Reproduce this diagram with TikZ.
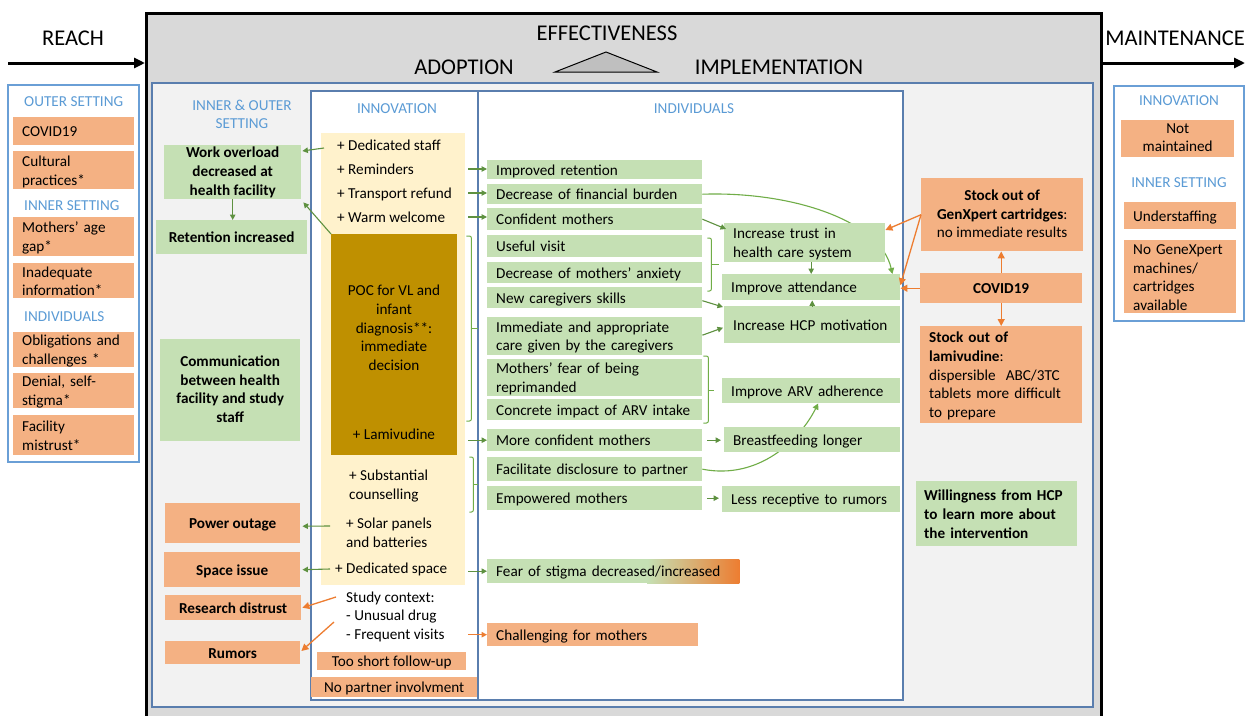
\documentclass[tikz,border=0pt]{standalone}
\usepackage{fontspec}
\setmainfont{Carlito}
\usetikzlibrary{arrows.meta,calc}
\definecolor{cgreen}{HTML}{C5E0B4}
\definecolor{corange}{HTML}{F4B183}
\definecolor{cpoc}{HTML}{BF9000}
\definecolor{cyel}{HTML}{FFF2CC}
\definecolor{cline}{HTML}{5E9140}
\definecolor{clight}{HTML}{70AD47}
\definecolor{carrow}{HTML}{ED7D31}
\definecolor{chead}{HTML}{5B9BD5}
\definecolor{cframe}{HTML}{5A7EAE}
\definecolor{cframeL}{HTML}{6A9FD6}
\definecolor{cgray}{HTML}{D9D9D9}
\definecolor{cgrayL}{HTML}{F2F2F2}
\definecolor{ctri}{HTML}{BFBFBF}
\newcommand{\myfbody}{\fontsize{15.2}{18.7}\selectfont}
\newcommand{\myfhead}{\fontsize{15.2}{18}\selectfont}
\newcommand{\myftitle}{\fontsize{22.5}{26}\selectfont}
\newcommand{\mystrut}{\rule[-2pt]{0pt}{15.5pt}}
\pgfdeclarelayer{bg}
\pgfdeclarelayer{edges}
\pgfsetlayers{bg,edges,main}
\tikzset{
  mytitle/.style={font=\myftitle, inner sep=0pt},
  hdr/.style={font=\myfhead, text=chead, inner sep=0pt},
  boxbase/.style={anchor=north west, inner ysep=0pt, font=\myfbody, execute at begin node=\mystrut, execute at end node=\mystrut},
  lbox/.style={boxbase, inner xsep=9pt, align=left},
  cbox/.style={boxbase, inner xsep=2pt, align=center},
  bfnt/.style={font=\myfbody\bfseries},
  gfill/.style={fill=cgreen},
  ofill/.style={fill=corange},
  itm/.style={font=\myfbody, inner sep=0pt, anchor=west, align=left, execute at begin node=\mystrut, execute at end node=\mystrut},
  mypanel/.style={anchor=north west, inner sep=0pt},
  ga/.style={draw=cline, line width=1.1pt, -{Triangle[length=5.5pt,width=5.5pt]}},
  gc/.style={draw=clight, line width=1.1pt, -{Triangle[length=6pt,width=6pt]}},
  oa/.style={draw=carrow, line width=1.3pt, -{Triangle[length=7pt,width=7pt]}},
  oas/.style={draw=carrow, line width=1.1pt, -{Triangle[length=5.5pt,width=5.5pt]}},
  brk/.style={draw=clight, line width=1pt, rounded corners=2pt},
  tick/.style={draw=clight, line width=1pt},
  bigarrow/.style={line width=3pt, -{Triangle[length=11pt,width=10pt]}},
  frame/.style={draw=cframe, line width=1.2pt},
}
\begin{document}
\begin{tikzpicture}[x=1pt,y=-1pt]
\useasboundingbox (0,0) rectangle (1245,715);

\begin{pgfonlayer}{bg}
\draw[line width=3pt, fill=cgray] (146,13) rectangle (1101,740);
\draw[frame, fill=cgrayL] (152,83) rectangle (1093,707);
\draw[frame, fill=white] (311,91) rectangle (478,700);
\draw[frame, fill=white] (478,91) rectangle (903,700);
\draw[draw=cframeL, line width=1.2pt, fill=white] (8,85) rectangle (139,462);
\draw[draw=cframeL, line width=1.2pt, fill=white] (1114,86) rectangle (1244,321);
\draw[line width=1pt, fill=ctri] (555,72) -- (606,52) -- (657,72) -- cycle;
\end{pgfonlayer}

% titles
\node[mytitle] (reach) at (73,38) {REACH};
\node[mytitle] (maint) at (1175,38) {MAINTENANCE};
\node[mytitle] (eff) at (607,33) {EFFECTIVENESS};
\node[mytitle] (adop) at (464,67) {ADOPTION};
\node[mytitle] (impl) at (779,67) {IMPLEMENTATION};
\coordinate (reachS) at (8,63);
\coordinate (reachE) at (145,63);
\coordinate (mainS) at (1102,63);
\coordinate (mainE) at (1245,63);
\draw[bigarrow] (reachS) -- (reachE);
\draw[bigarrow] (mainS) -- (mainE);

% headers
\node[hdr, anchor=west] (hOut) at (24,102) {OUTER SETTING};
\node[hdr, anchor=west] (hInn) at (24,206) {INNER SETTING};
\node[hdr, anchor=west] (hInd) at (24,317) {INDIVIDUALS};
\node[hdr, align=center] (hIO) at (242,114) {INNER \& OUTER\\SETTING};
\node[hdr] (hInv) at (397,109) {INNOVATION};
\node[hdr] (hIndiv) at (694,109) {INDIVIDUALS};
\node[hdr] (hMInv) at (1179,101) {INNOVATION};
\node[hdr] (hMInn) at (1179,183) {INNER SETTING};

% reach column
\node[lbox, ofill, text width=103pt, minimum height=28pt] (cov) at (13,117) {COVID19};
\node[lbox, ofill, text width=103pt, minimum height=38pt] (cul) at (13,151) {Cultural\\practices*};
\node[lbox, ofill, text width=103pt, minimum height=39pt] (mag) at (13,217) {Mothers’ age\\gap*};
\node[lbox, ofill, text width=103pt, minimum height=35pt] (ina) at (13,263) {Inadequate\\information*};
\node[lbox, ofill, text width=103pt, minimum height=35pt] (obl) at (13,332) {Obligations and\\challenges *};
\node[lbox, ofill, text width=103pt, minimum height=35pt] (den) at (13,373) {Denial, self-\\stigma*};
\node[lbox, ofill, text width=103pt, minimum height=40pt] (fac) at (13,415) {Facility\\mistrust*};

% inner & outer setting column
\node[cbox, gfill, bfnt, minimum width=137pt, minimum height=54pt] (wo) at (164,145) {Work overload\\decreased at\\health facility};
\node[cbox, gfill, bfnt, minimum width=151pt, minimum height=34pt] (ri) at (156,220) {Retention increased};
\node[cbox, gfill, bfnt, minimum width=140pt, minimum height=102pt] (com) at (160,339) {Communication\\between health\\facility and study\\staff};
\node[cbox, ofill, bfnt, minimum width=135pt, minimum height=40pt] (po) at (165,503) {Power outage};
\node[cbox, ofill, bfnt, minimum width=136pt, minimum height=35pt] (si) at (164,552) {Space issue};
\node[cbox, ofill, bfnt, minimum width=136pt, minimum height=25pt] (rd) at (165,595) {Research distrust};
\node[cbox, ofill, bfnt, minimum width=135pt, minimum height=23pt] (ru) at (165,641) {Rumors};

% innovation column
\node[mypanel, fill=cyel, minimum width=144pt, minimum height=452pt] (yp) at (321,133) {};
\node[mypanel, fill=cpoc, minimum width=126pt, minimum height=221pt] (poc) at (331,234) {};
\node[itm] (ds) at (337,145) {+ Dedicated staff};
\node[itm] (rem) at (337,169) {+ Reminders};
\node[itm] (tr) at (337,193) {+ Transport refund};
\node[itm] (ww) at (337,217) {+ Warm welcome};
\node[itm, anchor=center, align=center] (poct) at (394,329) {POC for VL and\\infant\\diagnosis**:\\immediate\\decision};
\node[itm, anchor=center] (lam) at (394,434) {+ Lamivudine};
\node[itm] (sub) at (349,486) {+ Substantial\\counselling};
\node[itm] (sol) at (346,534) {+ Solar panels\\and batteries};
\node[itm] (dsp) at (335,568) {+ Dedicated space};
\node[itm] (sc1) at (346,597) {Study context:};
\node[itm] (sc2) at (346,615) {- Unusual drug};
\node[itm] (sc3) at (346,634) {- Frequent visits};
\node[cbox, ofill, minimum width=149pt, minimum height=18pt] (tsf) at (317,652) {Too short follow-up};
\node[cbox, ofill, minimum width=166pt, minimum height=20pt] (npi) at (311,677) {No partner involvment};

% individuals column
\node[lbox, gfill, text width=197pt, minimum height=19pt] (ir) at (487,160) {Improved retention};
\node[lbox, gfill, text width=197pt, minimum height=20pt] (dfb) at (487,184) {Decrease of financial burden};
\node[lbox, gfill, text width=197pt, minimum height=22pt] (cm) at (487,208) {Confident mothers};
\node[lbox, gfill, text width=197pt, minimum height=22pt] (uv) at (487,235) {Useful visit};
\node[lbox, gfill, text width=197pt, minimum height=21pt] (dma) at (487,262) {Decrease of mothers’ anxiety};
\node[lbox, gfill, text width=197pt, minimum height=21pt] (ncs) at (487,287) {New caregivers skills};
\node[lbox, gfill, text width=197pt, minimum height=38pt] (iac) at (487,317) {Immediate and appropriate\\care given by the caregivers};
\node[lbox, gfill, text width=197pt, minimum height=37pt] (mfr) at (487,359) {Mothers’ fear of being\\reprimanded};
\node[lbox, gfill, text width=197pt, minimum height=21pt] (cia) at (487,399) {Concrete impact of ARV intake};
\node[lbox, gfill, text width=197pt, minimum height=22pt] (mcm) at (487,429) {More confident mothers};
\node[lbox, gfill, text width=197pt, minimum height=24pt] (fdp) at (487,457) {Facilitate disclosure to partner};
\node[lbox, gfill, text width=197pt, minimum height=24pt] (em) at (487,486) {Empowered mothers};
\node[lbox, text width=234pt, minimum height=24pt] (fs) at (487,559) {Fear of stigma decreased/increased};
\node[lbox, ofill, text width=193pt, minimum height=23pt] (cfm) at (487,623) {Challenging for mothers};

\node[lbox, gfill, text width=143pt, minimum height=39pt] (itr) at (724,223) {Increase trust in\\health care system};
\node[lbox, gfill, text width=160pt, minimum height=26pt] (ia) at (722,274) {Improve attendance};
\node[lbox, gfill, text width=158pt, minimum height=37pt] (ihm) at (724,306) {Increase HCP motivation};
\node[lbox, gfill, text width=160pt, minimum height=25pt] (iarv) at (722,378) {Improve ARV adherence};
\node[lbox, gfill, text width=158pt, minimum height=25pt] (bl) at (724,427) {Breastfeeding longer};
\node[lbox, gfill, text width=160pt, minimum height=26pt] (lr) at (722,486) {Less receptive to rumors};

% right part
\node[cbox, ofill, minimum width=162pt, minimum height=73pt] (gx) at (921,178) {\textbf{Stock out of}\\\textbf{GenXpert cartridges}:\\no immediate results};
\node[cbox, ofill, bfnt, minimum width=162pt, minimum height=30pt] (cv) at (920,273) {COVID19};
\node[lbox, ofill, text width=144pt, minimum height=97pt] (lam2) at (920,326) {\textbf{Stock out of}\\\textbf{lamivudine}:\\dispersible\ \ ABC/3TC\\tablets more difficult\\to prepare};
\node[lbox, gfill, bfnt, inner xsep=8pt, text width=145pt, minimum height=65pt] (wh) at (916,481) {Willingness from HCP\\to learn more about\\the intervention};

% maintenance
\node[cbox, ofill, minimum width=113pt, minimum height=37pt] (nm) at (1121,120) {Not\\maintained};
\node[lbox, ofill, text width=94pt, minimum height=27pt] (us) at (1124,202) {Understaffing};
\node[lbox, ofill, text width=94pt, minimum height=73pt] (ng) at (1124,240) {No GeneXpert\\machines/\\cartridges\\available};

% background pieces behind nodes
\begin{pgfonlayer}{edges}
\fill[cgreen] (fs.north west) rectangle ($(fs.south west)+(160,0)$);
\shade[left color=cgreen, right color=carrow] ($(fs.north west)+(160,0)$) rectangle (fs.south east);
\draw[gc] (dfb.east) .. controls +(88,-3) and +(-12,-54) .. ($(ia.north east)+(-8,0)$);
\draw[gc] (fdp.east) .. controls +(57,11) and +(-18,36) .. ($(iarv.south)+(7,0)$);
\end{pgfonlayer}

% connectors: inner & outer
\draw[ga] ($(yp.west |- ds)+(3,3)$) -- ($(wo.north east)+(1,6)$);
\draw[ga] (poc.north west) -- ($(wo.south east)+(2,3)$);
\draw[ga] (wo.south) -- (wo.south |- ri.north);
\draw[ga] ($(sol.west)+(-16,-8)$) -- ($(po.east)+(2,3)$);
\draw[ga] ($(dsp.west)+(-5,1)$) -- ($(si.east)+(2,0)$);
\draw[oa] ($(sc1.west)+(-10,0)$) -- ($(rd.east)+(1,0)$);
\draw[oa] ($(sc2.west)+(-12,7)$) -- ($(ru.north east)+(1,10)$);

% innovation -> individuals
\draw[ga] ($(rem -| yp.east)+(3,0)$) -- (rem -| ir.west);
\draw[ga] ($(tr -| yp.east)+(3,0)$) -- (tr -| dfb.west);
\draw[ga] ($(ww -| yp.east)+(3,0)$) -- (ww -| cm.west);
\draw[ga] ($(mcm.west -| yp.east)+(3,0)$) -- (mcm.west);
\draw[ga] ($(fs.west -| yp.east)+(3,0)$) -- (fs.west);
\draw[oas] ($(cfm.west -| yp.east)+(3,0)$) -- (cfm.west);
\draw[brk] ($(poc.north east)+(9,2)$) -- ++(5,0) -- ++(0,185) -- ++(-5,0);
\draw[tick] ($(poc.north east)+(14,94)$) -- ++(7,0);
\draw[brk] ($(yp.east |- fdp.north)+(4,0)$) -- ++(4,0) -- ++(0,55) -- ++(-4,0);
\draw[tick] ($(yp.east |- fdp.north)+(8,27)$) -- ++(5,0);

% individuals
\draw[ga] (cm.east) -- ($(itr.north west)+(2,6)$);
\draw[brk] ($(uv.north east)+(5,3)$) -- ++(4,0) -- ++(0,53) -- ++(-4,0);
\draw[tick] ($(uv.north east)+(9,29.5)$) -- ++(8,0);
\draw[ga] (itr.south -| ia.north) -- (ia.north);
\draw[ga] (ihm.north) -- (ihm.north |- ia.south);
\draw[ga] ($(ncs.east)+(0,3)$) -- ($(ihm.north west)+(-1,1)$);
\draw[ga] ($(iac.east)+(0,-1)$) -- ($(ihm.west)+(-1,3)$);
\draw[brk] ($(mfr.north east)+(1,-3)$) -- ++(5,0) -- ++(0,67) -- ++(-5,0);
\draw[tick] ($(mfr.north east)+(6,31)$) -- ++(6,0);
\draw[ga] ($(mcm.east)+(5,0)$) -- ($(mcm.east -| bl.west)+(-3,0)$);
\draw[ga] ($(em.east)+(5,0)$) -- ($(em.east -| lr.west)+(-3,0)$);

% orange connectors on the right
\draw[oa] (gx.west) -- ($(itr.north east)+(0,7)$);
\draw[oa] (gx.west) -- ($(ia.east)+(0,-2)$);
\draw[oa] (cv.west) -- (cv.west -| ia.east);
\draw[oa] (cv.north) -- (cv.north |- gx.south);
\draw[oa] (cv.south) -- (cv.south |- lam2.north);
\end{tikzpicture}
\end{document}
